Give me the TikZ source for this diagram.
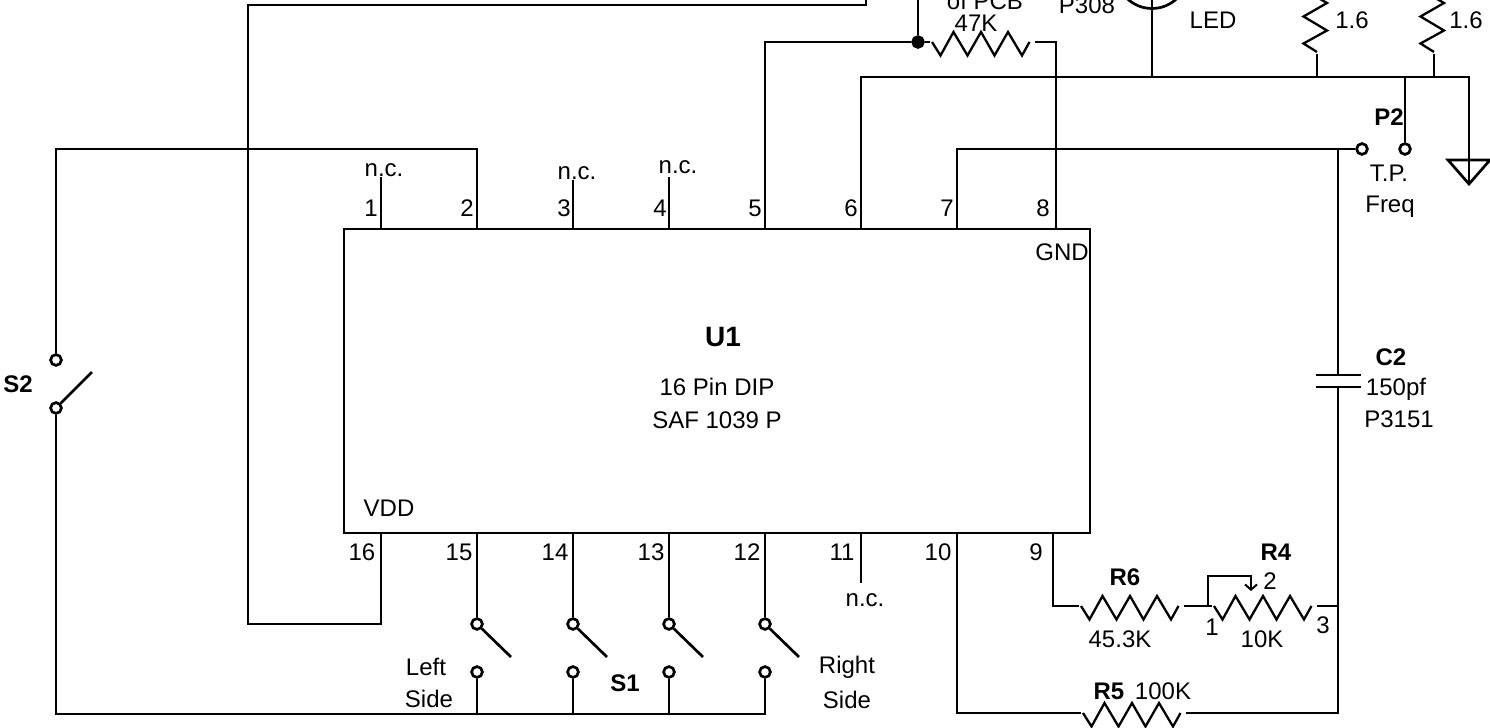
\documentclass[tikz,border=0pt]{standalone}
\usepackage{fontspec}
\setmainfont{Liberation Sans}
\usetikzlibrary{arrows.meta}

\begin{document}
\begin{tikzpicture}[
  x=0.5pt, y=-0.5pt, line width=1.35pt,
  chip/.style={draw, minimum width=373pt, minimum height=152pt, inner sep=0pt},
  lab/.style={inner sep=0pt, font=\fontsize{12}{14}\selectfont},
  boldlab/.style={inner sep=0pt, font=\fontsize{12}{14}\selectfont\bfseries},
  term/.style={draw, circle, fill=white, inner sep=0pt, minimum size=5.4pt},
  joint/.style={draw, circle, fill=black, inner sep=0pt, minimum size=5.4pt},
  res/.pic={
    \draw[line width=1.15pt] (0,0) -- ++(8.5,13.5) -- ++(13,-23.5) -- ++(14,23.5) -- ++(13.5,-23.5)
      -- ++(13.5,23.5) -- ++(13.5,-23.5) -- ++(14,23.5) -- ++(7.5,-13.5);
    \coordinate (-in) at (-2,0);
    \coordinate (-out) at (103,0);
  }
]
\useasboundingbox (0,0) rectangle (1490,728);
\clip (0,0) rectangle (1490,728);

% Chip
\node[chip] (U1box) at (717,381) {};
\node[lab, font=\fontsize{14}{16}\selectfont\bfseries] (U1) at (723,337) {U1};
\node[lab] (dip) at (717,387) {16 Pin DIP};
\node[lab] (saf) at (717,420) {SAF 1039 P};
\node[lab] (vdd) at (389,508) {VDD};
\node[lab] (gnd) at (1062,252) {GND};

% Pins
\foreach \n/\x/\lx in {1/381/371, 2/477/467, 3/573/564, 4/669/660, 5/765/755, 6/861/851, 7/957/947, 8/1056/1043} {
  \coordinate (pt\n) at (\x,229);
  \node[lab] (num\n) at (\lx,208) {\n};
}
\foreach \n/\x/\lx in {16/381/362, 15/477/459, 14/573/555, 13/669/651, 12/765/747, 11/861/842, 10/957/938, 9/1053/1036} {
  \coordinate (pt\n) at (\x,533);
  \node[lab] (num\n) at (\lx,552) {\n};
}

% Unconnected pins
\coordinate (nc1) at (381,177);
\coordinate (nc3) at (573,180);
\coordinate (nc4) at (669,177);
\coordinate (nc11) at (861,583);
\node[lab] (nctext1) at (384,170) {n.c.};
\node[lab] (nctext3) at (577,173) {n.c.};
\node[lab] (nctext4) at (678,167) {n.c.};
\node[lab] (nctext11) at (865,600) {n.c.};
\foreach \n in {1,3,4,11} {
  \draw (pt\n) -- (nc\n);
}

% S1
\foreach \n/\x in {15/477, 14/573, 13/669, 12/765} {
  \node[term] (sa\n) at (\x,624) {};
  \node[term] (sb\n) at (\x,672) {};
  \coordinate (blade\n) at (\x+34,657);
  \draw (pt\n) -- (sa\n);
  \draw (sa\n) -- (blade\n);
}
\node[lab] (left) at (426,667) {Left};
\node[lab] (lside) at (429,699) {Side};
\node[boldlab] (S1) at (625,683) {S1};
\node[lab] (right) at (847,667) {Right};
\node[lab] (rside) at (847,700) {Side};

% S2
\node[term] (s2a) at (56,360) {};
\node[term] (s2b) at (56,408) {};
\coordinate (s2blade) at (92,372);
\coordinate (s2top) at (56,149);
\coordinate (busend) at (765,714);
\node[boldlab] (S2) at (18,384) {S2};
\draw (pt2) |- (s2top) -- (s2a);
\draw (s2b) -- (s2blade);
\draw (s2b) |- (busend) -- (sb12);
\foreach \n in {15,14,13} {
  \draw (sb\n) -- (sb\n |- busend);
}

% Pin 16 wire
\coordinate (topend) at (866,-5);
\coordinate (lefttop) at (248,5);
\coordinate (leftbot) at (248,624);
\draw (topend) |- (lefttop) -- (leftbot) -| (pt16);

% 47K
\node[joint] (dot) at (918,42) {};
\coordinate (dottop) at (918,-5);
\pic (R47) at (932,42) {res};
\node[lab] (val47) at (976,23) {47K};
\node[lab] (pcb) at (985,1) {of PCB};
\draw (dottop) -- (dot);
\draw (pt5) |- (dot) -- (R47-in);
\draw (R47-out) -| (pt8);

% Bus with LED and 1.6 resistors
\coordinate (busright) at (1469,77);
\coordinate (gndtop) at (1469,160);
\coordinate (gndtip) at (1469,185);
\coordinate (busled) at (1152,77);
\coordinate (busa) at (1317,77);
\coordinate (busb) at (1434,77);
\coordinate (busp) at (1405,77);
\draw (pt6) |- (busright) -- (gndtop);
\draw (gndtop) -- (gndtip);
\draw ([xshift=-10.5pt]gndtop) -- ([xshift=10.5pt]gndtop) -- ([yshift=-12pt]gndtop) -- cycle;
\node[draw, circle, minimum size=36pt, inner sep=0pt] (led) at (1152,-27.5) {};
\draw (led.center) -- (busled);
\node[lab] (p308) at (1087,5) {P308};
\node[lab] (ledtext) at (1213,20) {LED};
\pic[rotate=90, yscale=-1] (Ra) at (1317,52) {res};
\pic[rotate=90, yscale=-1] (Rb) at (1434,52) {res};
\draw (busa) -- (Ra-in);
\draw (busb) -- (Rb-in);
\node[lab] (vala) at (1352,20) {1.6};
\node[lab] (valb) at (1466,20) {1.6};

% P2 test point
\node[term] (tpa) at (1362,149) {};
\node[term] (tpb) at (1405,149) {};
\draw (pt7) |- (tpa);
\draw (busp) -- (tpb);
\node[boldlab] (P2) at (1389,117) {P2};
\node[lab] (tp) at (1389,173) {T.P.};
\node[lab] (freq) at (1390,207) {Freq};

% C2
\coordinate (c2top) at (1338,149);
\coordinate (c2a) at (1338,375);
\coordinate (c2b) at (1338,387);
\draw (c2top) -- (c2a);
\draw ([xshift=-11pt]c2a) -- ([xshift=11.5pt]c2a);
\draw ([xshift=-11pt]c2b) -- ([xshift=11.5pt]c2b);
\node[boldlab] (C2) at (1391,357) {C2};
\node[lab] (c2val) at (1396,389) {150pf};
\node[lab] (c2part) at (1399,419) {P3151};

% R6, R4, R5
\pic (R6) at (1081,606) {res};
\pic (R4) at (1214,606) {res};
\pic (R5) at (1083,713) {res};
\coordinate (r4end) at (1338,606);
\coordinate (wipea) at (1208,606);
\coordinate (wipeb) at (1208,576);
\coordinate (wipec) at (1251,591);
\draw (pt9) |- (R6-in);
\draw (R6-out) -- (R4-in);
\draw (R4-out) -- (r4end);
\draw[-{Straight Barb[length=2.6pt, width=6pt]}, line width=1pt] (wipea) -- (wipeb) -| (wipec);
\draw (pt10) |- (R5-in);
\draw (R5-out) -| (c2b);
\node[boldlab] (R6lab) at (1125,577) {R6};
\node[lab] (r6val) at (1120,639) {45.3K};
\node[boldlab] (R4lab) at (1276,552) {R4};
\node[lab] (w2) at (1270,581) {2};
\node[lab] (w1) at (1212,627) {1};
\node[lab] (w3) at (1323,625) {3};
\node[lab] (r4val) at (1262,639) {10K};
\node[boldlab] (R5lab) at (1109,691) {R5};
\node[lab] (r5val) at (1163,691) {100K};

\end{tikzpicture}
\end{document}
